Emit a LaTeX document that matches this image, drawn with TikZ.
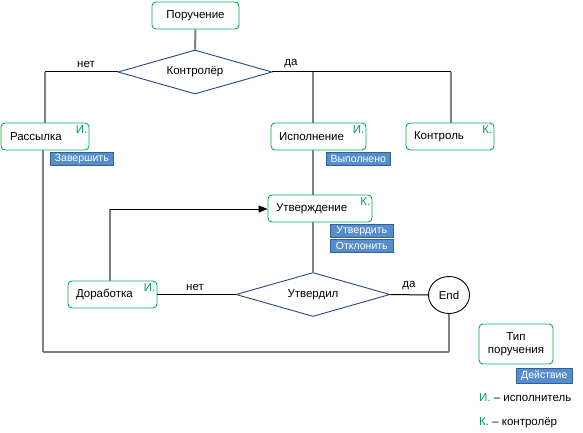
\documentclass[tikz,border=0pt]{standalone}
\usepackage{fontspec}
\setmainfont{Liberation Sans}
\usetikzlibrary{shapes.geometric,arrows.meta}
\definecolor{boxgreen}{RGB}{0,176,80}
\definecolor{txtgreen}{RGB}{0,160,80}
\definecolor{lblfill}{RGB}{86,141,204}
\definecolor{lbldraw}{RGB}{50,95,155}
\definecolor{dmblue}{RGB}{40,70,130}
\definecolor{conngray}{RGB}{128,128,128}
\begin{document}
\begin{tikzpicture}[x=1pt,y=-1pt,
  every node/.style={font=\fontsize{11.5}{13.5}\selectfont},
  box/.style={draw=boxgreen,line width=0.9pt,rounded corners=4pt,minimum height=27pt,inner ysep=0pt,align=left},
  corner/.style={text=txtgreen,inner sep=1pt,anchor=north east},
  act/.style={fill=lblfill,draw=lbldraw,line width=0.6pt,text=white,font=\fontsize{10.5}{11}\selectfont,minimum height=13pt,inner sep=0pt,anchor=north west},
  dec/.style={diamond,aspect=3.5,draw=dmblue,line width=0.9pt,inner sep=0pt,minimum width=154pt,minimum height=44pt},
  grayline/.style={draw=conngray,line width=2pt},
  blackline/.style={draw=black,line width=1pt},
  lab/.style={inner sep=0pt}
]
\useasboundingbox (0,0) rectangle (583,433);

% nodes
\node[box,minimum width=87pt,align=center] (por) at (195.5,15.5) {Поручение};
\node[dec] (kontrd) at (195,72) {Контролёр};

\node[box,text width=70pt,inner xsep=9pt] (rass) at (45,136.5) {Рассылка};
\node[corner] (rassc) at ([xshift=-1pt,yshift=-2pt]rass.north east) {И.};
\node[act,minimum width=63pt] (zav) at (50,152) {Завершить};

\node[box,text width=79pt,inner xsep=8pt] (isp) at (318.5,136.5) {Исполнение};
\node[corner] (ispc) at ([xshift=-1pt,yshift=-2pt]isp.north east) {И.};
\node[act,minimum width=64pt] (vyp) at (326,152) {Выполнено};

\node[box,text width=72pt,inner xsep=8pt] (kon) at (450,136.5) {Контроль};
\node[corner] (konc) at ([xshift=-1pt,yshift=-2pt]kon.north east) {К.};

\node[box,text width=88pt,inner xsep=8pt] (utv) at (320,208.5) {Утверждение};
\node[corner] (utvc) at ([xshift=-1pt,yshift=-2pt]utv.north east) {К.};
\node[act,minimum width=63pt] (utvd) at (330,224) {Утвердить};
\node[act,minimum width=63pt] (otkl) at (330,239) {Отклонить};

\node[dec] (utvdec) at (313,294.5) {Утвердил};

\node[box,text width=73pt,inner xsep=8pt] (dor) at (112.5,294.5) {Доработка};
\node[corner] (dorc) at ([xshift=-1pt,yshift=-2pt]dor.north east) {И.};

\node[ellipse,draw=black,line width=0.9pt,minimum width=41pt,minimum height=37pt,inner sep=0pt] (endn) at (449,295) {End};

\node[box,minimum width=74pt,minimum height=40pt,align=center] (tip) at (516,344) {Тип\\[-1pt]поручения};
\node[act,minimum width=56pt,minimum height=15pt] (dei) at (516,368) {Действие};

\node[lab,anchor=west] (leg1) at (479,398) {\textcolor{txtgreen}{И.} – исполнитель};
\node[lab,anchor=west] (leg2) at (479,423) {\textcolor{txtgreen}{К.} – контролёр};

% coordinates
\coordinate (netc) at (45,72);
\coordinate (dac) at (451,72);
\coordinate (ispj) at (313,72);
\coordinate (loopr) at (449,352);
\coordinate (loopl) at (43,352);
\coordinate (arrc) at (110,209);

% connectors
\draw[grayline] (por.south) -- (kontrd.north);
\draw[blackline] (kontrd.west) -- (netc);
\draw[grayline] (netc) -- (rass.north);
\draw[blackline] (kontrd.east) -- (dac);
\draw[grayline] (dac) -- (dac |- kon.north);
\draw[grayline] (ispj) -- (ispj |- isp.north);
\draw[grayline] (ispj |- isp.south) -- (ispj |- utv.north);
\draw[grayline] (ispj |- utv.south) -- (utvdec.north);
\draw[blackline] (utvdec.west) -- (dor.east);
\draw[blackline] (utvdec.east) -- (endn.west);
\draw[grayline] (arrc |- dor.north) -- (arrc);
\draw[blackline,-{Triangle[length=9pt,width=7pt]}] (arrc) -- (arrc -| utv.west);
\draw[grayline] (endn.south) -- (loopr);
\draw[grayline] (loopr) -- (loopl);
\draw[grayline] (loopl) -- (loopl |- rass.south);

% branch labels
\node[lab] (net1) at (86,64) {нет};
\node[lab] (da1) at (291,64) {да};
\node[lab] (net2) at (195,287) {нет};
\node[lab] (da2) at (409,286) {да};
\end{tikzpicture}
\end{document}
